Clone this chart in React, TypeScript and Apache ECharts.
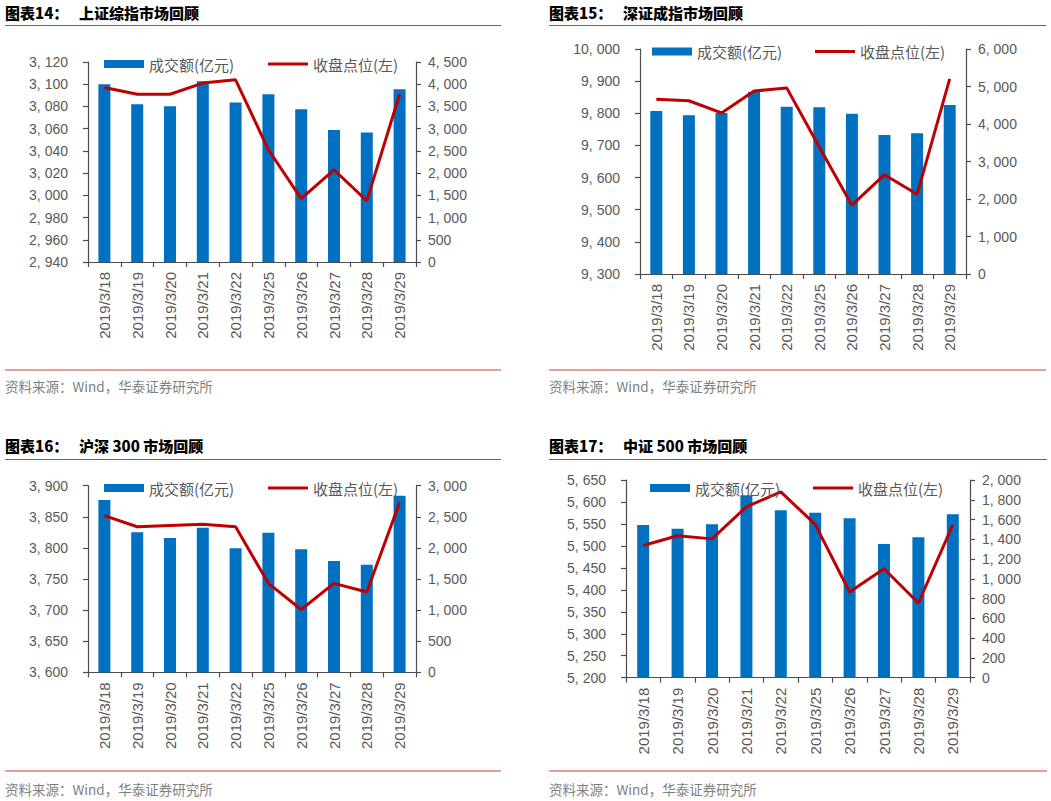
import React, { useEffect, useRef } from "react";
import * as echarts from "echarts";

const dates = ["2019/3/18", "2019/3/19", "2019/3/20", "2019/3/21", "2019/3/22", "2019/3/25", "2019/3/26", "2019/3/27", "2019/3/28", "2019/3/29"];

const shVolume = [4000, 3548, 3503, 4066, 3586, 3773, 3436, 2970, 2911, 3886];
const shClose = [3097, 3091, 3091, 3101, 3104, 3041, 2997, 3023, 2995, 3091];
const szVolume = [4347, 4231, 4293, 4853, 4462, 4444, 4276, 3707, 3751, 4507];
const szClose = [9844, 9839, 9801, 9869, 9879, 9695, 9514, 9609, 9548, 9907];
const hsVolume = [2770, 2251, 2159, 2325, 1993, 2244, 1977, 1789, 1730, 2839];
const hsClose = [3852, 3834, 3836, 3838, 3834, 3743, 3701, 3743, 3729, 3873];
const zzVolume = [1545, 1507, 1552, 1845, 1693, 1669, 1612, 1352, 1420, 1653];
const zzClose = [5501, 5523, 5516, 5589, 5623, 5549, 5395, 5448, 5370, 5548];

// [min, max, interval]
const shLeftTicks = [2940, 3120, 20];
const shRightTicks = [0, 4500, 500];
const szLeftTicks = [9300, 10000, 100];
const szRightTicks = [0, 6000, 1000];
const hsLeftTicks = [3600, 3900, 50];
const hsRightTicks = [0, 3000, 500];
const zzLeftTicks = [5200, 5650, 50];
const zzRightTicks = [0, 2000, 200];

const titleNums = ["图表14：", "图表15：", "图表16：", "图表17："];
const titleNames = ["上证综指市场回顾", "深证成指市场回顾", "沪深 300 市场回顾", "中证 500 市场回顾"];
const barName = "成交额(亿元)";
const lineName = "收盘点位(左)";
const sourceText = "资料来源：Wind，华泰证券研究所";

const BLUE = "#0070C0";
const RED = "#C00000";
const RULE = "#C8402F";
const AXIS = "#4D4D4D";
const LABEL = "#595959";
const NUMFONT = "'Liberation Sans', Arial, sans-serif";
const CJK = "'Noto Sans CJK SC', sans-serif";

function fmt(v: number) {
  const s = String(Math.round(v));
  if (s.length > 3) return s.slice(0, -3) + ", " + s.slice(-3);
  return s;
}

const panels = [
  { vol: shVolume, close: shClose, lt: shLeftTicks, rt: shRightTicks, grid: { left: 88, top: 62, width: 328, height: 200 }, legY: 65.5, legBar: 104, legLine: 268, px: 5, rw: 496, titleY: 14, ruleTop: 25.5, ruleBot: 370, srcY: 387 },
  { vol: szVolume, close: szClose, lt: szLeftTicks, rt: szRightTicks, grid: { left: 640, top: 49, width: 326, height: 225 }, legY: 53, legBar: 652, legLine: 815, px: 549, rw: 497, titleY: 14, ruleTop: 25.5, ruleBot: 370, srcY: 387 },
  { vol: hsVolume, close: hsClose, lt: hsLeftTicks, rt: hsRightTicks, grid: { left: 88, top: 485.7, width: 328, height: 186.6 }, legY: 489.5, legBar: 104, legLine: 268, px: 5, rw: 496, titleY: 447, ruleTop: 459.5, ruleBot: 771, srcY: 790.5 },
  { vol: zzVolume, close: zzClose, lt: zzLeftTicks, rt: zzRightTicks, grid: { left: 626, top: 480, width: 344, height: 197.7 }, legY: 489.5, legBar: 650, legLine: 813, px: 549, rw: 498, titleY: 447, ruleTop: 459.5, ruleBot: 771, srcY: 790.5 },
];

function buildOption() {
  const grid: any[] = [];
  const xAxis: any[] = [];
  const yAxis: any[] = [];
  const series: any[] = [];
  const legend: any[] = [];
  const graphic: any[] = [];

  panels.forEach((p, i) => {
    grid.push({ ...p.grid });
    xAxis.push({
      type: "category",
      gridIndex: i,
      data: dates,
      boundaryGap: true,
      axisLine: { show: true, lineStyle: { color: AXIS, width: 1.2 } },
      axisTick: { show: true, length: 5, inside: false, lineStyle: { color: AXIS, width: 1.2 } },
      axisLabel: { rotate: 90, margin: 10, fontSize: 15, color: LABEL, fontFamily: NUMFONT, interval: 0 },
      splitLine: { show: false },
    });
    yAxis.push({
      type: "value",
      gridIndex: i,
      position: "left",
      min: p.lt[0],
      max: p.lt[1],
      interval: p.lt[2],
      axisLine: { show: true, lineStyle: { color: AXIS, width: 1.2 } },
      axisTick: { show: true, length: 5, lineStyle: { color: AXIS, width: 1.2 } },
      axisLabel: { margin: 20, fontSize: 14, color: LABEL, fontFamily: NUMFONT, formatter: fmt },
      splitLine: { show: false },
    });
    yAxis.push({
      type: "value",
      gridIndex: i,
      position: "right",
      min: p.rt[0],
      max: p.rt[1],
      interval: p.rt[2],
      axisLine: { show: true, lineStyle: { color: AXIS, width: 1.2 } },
      axisTick: { show: true, length: 5, lineStyle: { color: AXIS, width: 1.2 } },
      axisLabel: { margin: 12, fontSize: 14, color: LABEL, fontFamily: NUMFONT, formatter: fmt },
      splitLine: { show: false },
    });
    series.push({
      type: "bar",
      name: barName,
      xAxisIndex: i,
      yAxisIndex: i * 2 + 1,
      data: p.vol,
      barWidth: 12,
      itemStyle: { color: BLUE },
      z: 2,
    });
    series.push({
      type: "line",
      name: lineName,
      xAxisIndex: i,
      yAxisIndex: i * 2,
      data: p.close,
      symbol: "none",
      smooth: false,
      lineStyle: { color: RED, width: 3 },
      itemStyle: { color: RED },
      z: 3,
    });
    const legText = { fontSize: 15, color: LABEL, fontFamily: CJK };
    legend.push({
      left: p.legBar,
      top: p.legY - 9,
      padding: 0,
      itemWidth: 40,
      itemHeight: 8,
      textStyle: legText,
      selectedMode: false,
      data: [{ name: barName, icon: "rect" }],
    });
    legend.push({
      left: p.legLine,
      top: p.legY - 9,
      padding: 0,
      itemWidth: 40,
      itemHeight: 3,
      textStyle: legText,
      selectedMode: false,
      data: [{ name: lineName, icon: "rect", itemStyle: { color: RED } }],
    });
    graphic.push({
      type: "text",
      left: p.px,
      top: p.titleY - 9,
      style: { text: titleNums[i], font: "900 15px " + CJK, fill: "#000" },
    });
    graphic.push({
      type: "text",
      left: p.px + 74,
      top: p.titleY - 9,
      style: { text: titleNames[i], font: "900 15px " + CJK, fill: "#000" },
    });
    graphic.push({
      type: "line",
      shape: { x1: p.px, y1: p.ruleTop, x2: p.px + p.rw, y2: p.ruleTop },
      style: { stroke: RULE, lineWidth: 1 },
    });
    graphic.push({
      type: "line",
      shape: { x1: p.px, y1: p.ruleBot, x2: p.px + p.rw, y2: p.ruleBot },
      style: { stroke: RULE, lineWidth: 1 },
    });
    graphic.push({
      type: "text",
      left: p.px,
      top: p.srcY - 8,
      style: { text: sourceText, font: "13.5px " + CJK, fill: "#7F7F7F" },
    });
  });

  return {
    animation: false,
    backgroundColor: "#ffffff",
    grid,
    xAxis,
    yAxis,
    series,
    legend,
    graphic,
  };
}

export default function App() {
  const ref = useRef<HTMLDivElement>(null);
  useEffect(() => {
    if (!ref.current) return;
    const chart = echarts.init(ref.current, null, { renderer: "svg" });
    chart.setOption(buildOption() as any);
    return () => chart.dispose();
  }, []);
  return (
    <div
      ref={ref}
      style={{ position: "fixed", left: 0, top: 0, width: 1051, height: 801, background: "#fff" }}
    />
  );
}
